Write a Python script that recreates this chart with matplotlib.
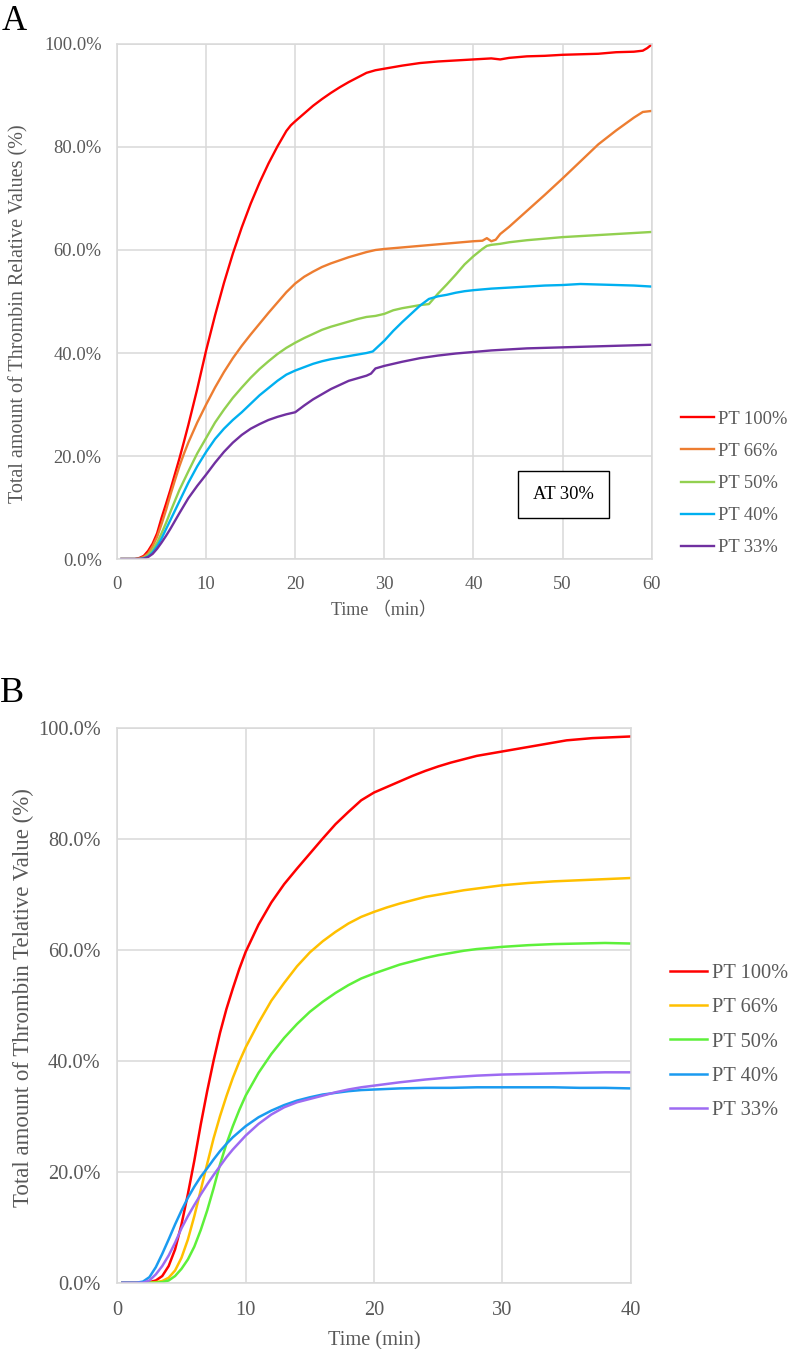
import matplotlib
matplotlib.use("Agg")
import matplotlib.pyplot as plt

# ─────────────────────────────
# DATA — panel A (AT 30%), time in min, value in %
# ─────────────────────────────
a_labels = ["PT 100%", "PT 66%", "PT 50%", "PT 40%", "PT 33%"]
a_colors = ["#FF0000", "#ED7D31", "#92D050", "#00B0F0", "#7030A0"]

a_pt100_t = [0.5, 1, 2, 2.5, 3, 3.5, 4, 4.5, 5, 5.5, 6, 6.5, 7, 7.5, 8, 9, 10, 11, 12, 13, 14, 15, 16, 17, 18, 19, 19.5,
             20, 21, 22, 23, 24, 25, 26, 27, 28, 29, 30, 32, 34, 36, 38, 40, 42, 43, 44, 46, 48, 50, 52, 54, 56, 58,
             59, 59.5, 60]
a_pt100_v = [0, 0, 0, 0.2, 0.6, 1.6, 3.0, 5.0, 8.0, 10.7, 13.5, 16.5, 19.5, 22.7, 26, 33, 40.5, 47.3, 53.6, 59.3, 64.4,
             69, 73.1, 76.8, 80.1, 83.1, 84.2, 85, 86.5, 88, 89.3, 90.5, 91.6, 92.6, 93.5, 94.4, 94.9, 95.2, 95.8,
             96.3, 96.6, 96.8, 97.0, 97.2, 97.0, 97.3, 97.6, 97.7, 97.9, 98.0, 98.1, 98.4, 98.5, 98.7, 99.2, 99.9]

a_pt66_t = [0.5, 2, 2.5, 3, 3.5, 4, 4.5, 5, 5.5, 6, 6.5, 7, 7.5, 8, 9, 10, 11, 12, 13, 14, 15, 16, 17, 18, 19, 20, 21,
            22, 23, 24, 25, 26, 27, 28, 29, 30, 32, 34, 36, 38, 40, 41, 41.5, 42, 42.5, 43, 44, 46, 48, 50, 52, 54,
            56, 58, 59, 60]
a_pt66_v = [0, 0, 0.1, 0.4, 1.1, 2.5, 4.3, 6.8, 9.5, 12.5, 15.3, 18, 20.4, 22.6, 26.5, 30, 33.3, 36.3, 39, 41.4, 43.6,
            45.7, 47.8, 49.8, 51.8, 53.5, 54.8, 55.8, 56.7, 57.4, 58, 58.6, 59.1, 59.6, 60, 60.2, 60.5, 60.8, 61.1,
            61.4, 61.7, 61.8, 62.3, 61.7, 62, 63.1, 64.5, 67.6, 70.7, 73.9, 77.2, 80.5, 83.2, 85.7, 86.8, 87.0]

a_pt50_t = [0.5, 2.5, 3, 3.5, 4, 4.5, 5, 5.5, 6, 6.5, 7, 8, 9, 10, 11, 12, 13, 14, 15, 16, 17, 18, 19, 20, 21, 22, 23,
            24, 25, 26, 27, 28, 29, 30, 31, 32, 33, 34, 35, 35.5, 36, 37, 38, 39, 40, 41, 41.5, 42, 43, 44, 46, 48,
            50, 52, 54, 56, 58, 60]
a_pt50_v = [0, 0, 0.2, 0.8, 1.8, 3.2, 5, 7, 9.2, 11.3, 13.4, 17, 20.5, 23.5, 26.5, 29, 31.3, 33.3, 35.2, 36.9, 38.4,
            39.8, 41, 42, 42.9, 43.7, 44.5, 45.1, 45.6, 46.1, 46.6, 47, 47.2, 47.6, 48.3, 48.7, 49, 49.3, 49.5, 50.5,
            51.5, 53.3, 55.2, 57.2, 58.8, 60.2, 60.8, 61, 61.2, 61.5, 61.9, 62.2, 62.5, 62.7, 62.9, 63.1, 63.3, 63.5]

a_pt40_t = [0.5, 2.5, 3, 3.5, 4, 4.5, 5, 5.5, 6, 6.5, 7, 8, 9, 10, 11, 12, 13, 14, 16, 18, 19, 20, 22, 23, 24, 25, 26,
            27, 28, 28.7, 30, 31, 32, 33, 34, 35, 36, 37, 38, 39, 40, 42, 44, 46, 48, 50, 52, 54, 56, 58, 60]
a_pt40_v = [0, 0, 0.1, 0.5, 1.3, 2.5, 4, 5.8, 7.6, 9.4, 11.2, 14.8, 18, 20.8, 23.3, 25.3, 27, 28.5, 31.8, 34.6, 35.8,
            36.6, 37.9, 38.4, 38.8, 39.1, 39.4, 39.7, 40, 40.3, 42.4, 44.3, 46, 47.6, 49.2, 50.5, 51, 51.3, 51.7, 52,
            52.2, 52.5, 52.7, 52.9, 53.1, 53.2, 53.4, 53.3, 53.2, 53.1, 52.9]

a_pt33_t = [0.5, 2.5, 3, 3.5, 4, 4.5, 5, 5.5, 6, 6.5, 7, 8, 9, 10, 11, 12, 13, 14, 15, 16, 17, 18, 19, 20, 21, 22, 23,
            24, 25, 26, 27, 28, 28.5, 29, 30, 32, 34, 36, 38, 40, 42, 44, 46, 48, 50, 52, 54, 56, 58, 60]
a_pt33_v = [0, 0, 0.1, 0.4, 1, 2, 3.2, 4.5, 5.9, 7.4, 8.9, 11.8, 14.2, 16.4, 18.7, 20.8, 22.6, 24.1, 25.3, 26.2, 27,
            27.6, 28.1, 28.5, 29.8, 31, 32, 33, 33.8, 34.6, 35.1, 35.6, 36, 37, 37.5, 38.3, 39, 39.5, 39.9, 40.2,
            40.5, 40.7, 40.9, 41, 41.1, 41.2, 41.3, 41.4, 41.5, 41.6]

# ─────────────────────────────
# DATA — panel B
# ─────────────────────────────
b_labels = ["PT 100%", "PT 66%", "PT 50%", "PT 40%", "PT 33%"]
b_colors = ["#FF0000", "#FFC000", "#5DF03A", "#1A9BF0", "#9D6BF2"]

b_pt100_t = [0.4, 1, 2, 2.5, 3, 3.5, 4, 4.5, 5, 5.5, 6, 6.5, 7, 7.5, 8, 8.5, 9, 9.5, 10, 11, 12, 13, 14, 15, 16, 17,
             18, 19, 20, 21, 22, 23, 24, 25, 26, 27, 28, 29, 30, 31, 32, 33, 34, 35, 36, 37, 38, 39, 40]
b_pt100_v = [0, 0, 0, 0.1, 0.4, 1.2, 3, 6, 10.5, 16, 22, 28.5, 34.5, 40, 45, 49.3, 53, 56.5, 59.6, 64.5, 68.5, 71.8,
             74.6, 77.3, 80, 82.6, 84.8, 86.9, 88.3, 89.3, 90.3, 91.3, 92.2, 93, 93.7, 94.3, 94.9, 95.3, 95.7, 96.1,
             96.5, 96.9, 97.3, 97.7, 97.9, 98.1, 98.2, 98.3, 98.4]

b_pt66_t = [0.4, 2.5, 3, 3.5, 4, 4.5, 5, 5.5, 6, 6.5, 7, 7.5, 8, 8.5, 9, 9.5, 10, 11, 12, 13, 14, 15, 16, 17, 18, 19,
            20, 21, 22, 23, 24, 25, 26, 27, 28, 29, 30, 32, 34, 36, 38, 40]
b_pt66_v = [0, 0, 0.1, 0.3, 0.9, 2.2, 4.5, 7.8, 12, 16.7, 21.4, 26, 30, 33.6, 36.9, 39.8, 42.4, 46.8, 50.8, 54, 57,
            59.5, 61.5, 63.2, 64.7, 65.9, 66.8, 67.6, 68.3, 68.9, 69.5, 69.9, 70.3, 70.7, 71, 71.3, 71.6, 72, 72.3,
            72.5, 72.7, 72.9]

b_pt50_t = [0.4, 3, 3.5, 4, 4.5, 5, 5.5, 6, 6.5, 7, 7.5, 8, 8.5, 9, 9.5, 10, 11, 12, 13, 14, 15, 16, 17, 18, 19, 20,
            21, 22, 23, 24, 25, 26, 27, 28, 29, 30, 32, 34, 36, 38, 40]
b_pt50_v = [0, 0, 0.1, 0.4, 1.2, 2.5, 4.2, 6.5, 9.5, 13, 17, 21.3, 25, 28.2, 31.1, 33.7, 37.8, 41.2, 44.1, 46.6, 48.8,
            50.6, 52.2, 53.6, 54.8, 55.7, 56.5, 57.3, 57.9, 58.5, 59, 59.4, 59.8, 60.1, 60.3, 60.5, 60.8, 61, 61.1,
            61.2, 61.1]

b_pt40_t = [0.4, 1.5, 2, 2.5, 3, 3.5, 4, 4.5, 5, 5.5, 6, 6.5, 7, 7.5, 8, 8.5, 9, 10, 11, 12, 13, 14, 15, 16, 17, 18,
            19, 20, 22, 24, 26, 28, 30, 32, 34, 36, 38, 40]
b_pt40_v = [0, 0, 0.2, 1, 2.8, 5.2, 7.8, 10.5, 13, 15.3, 17.3, 19.1, 20.6, 22.2, 23.7, 25, 26.2, 28.2, 29.8, 31, 32,
            32.8, 33.4, 33.9, 34.2, 34.5, 34.7, 34.8, 35, 35.1, 35.1, 35.2, 35.2, 35.2, 35.2, 35.1, 35.1, 35.0]

b_pt33_t = [0.4, 2, 2.5, 3, 3.5, 4, 4.5, 5, 5.5, 6, 6.5, 7, 7.5, 8, 8.5, 9, 10, 11, 12, 13, 14, 15, 16, 17, 18, 19,
            20, 22, 24, 26, 28, 30, 32, 34, 36, 38, 40]
b_pt33_v = [0, 0, 0.4, 1.5, 3, 4.9, 7.2, 9.8, 12, 14, 15.9, 17.7, 19.4, 21, 22.6, 24, 26.5, 28.6, 30.3, 31.6, 32.5,
            33.1, 33.7, 34.3, 34.8, 35.2, 35.5, 36.1, 36.6, 37, 37.3, 37.5, 37.6, 37.7, 37.8, 37.9, 37.9]

a_series = [(a_pt100_t, a_pt100_v), (a_pt66_t, a_pt66_v), (a_pt50_t, a_pt50_v),
            (a_pt40_t, a_pt40_v), (a_pt33_t, a_pt33_v)]
b_series = [(b_pt100_t, b_pt100_v), (b_pt66_t, b_pt66_v), (b_pt50_t, b_pt50_v),
            (b_pt40_t, b_pt40_v), (b_pt33_t, b_pt33_v)]

y_ticks = [0, 20, 40, 60, 80, 100]
a_x_ticks = [0, 10, 20, 30, 40, 50, 60]
b_x_ticks = [0, 10, 20, 30, 40]

# ─────────────────────────────
# STYLE
# ─────────────────────────────
SERIF = ["Liberation Serif", "Noto Sans CJK JP", "DejaVu Serif"]
plt.rcParams["font.family"] = SERIF
TXT = "#595959"
GRID = "#D9D9D9"

fig = plt.figure(figsize=(7.89, 13.49), dpi=100)


def style_axes(ax, xmax, xticks, fs):
    ax.set_xlim(0, xmax)
    ax.set_ylim(0, 100)
    ax.set_xticks(xticks)
    ax.set_xticklabels([str(t) for t in xticks])
    ax.set_yticks(y_ticks)
    ax.set_yticklabels([f"{v:.1f}%" for v in y_ticks])
    ax.grid(True, color=GRID, linewidth=1.1)
    ax.set_axisbelow(True)
    for sp in ax.spines.values():
        sp.set_color(GRID)
        sp.set_linewidth(1.1)
    ax.tick_params(length=0, labelsize=fs, labelcolor=TXT)


# ─────────────────────────────
# PANEL A
# ─────────────────────────────
axA = fig.add_axes([0.1483, 0.5856, 0.6777, 0.3818])
style_axes(axA, 60, a_x_ticks, 13.3)
axA.tick_params(axis="y", pad=11)
axA.tick_params(axis="x", pad=12.5)
for (t, v), c, lab in zip(a_series, a_colors, a_labels):
    axA.plot(t, v, color=c, linewidth=1.7, label=lab)
axA.set_xlabel("Time （min）", fontsize=13, color=TXT, labelpad=6.5)
axA.set_ylabel("Total amount of Thrombin Relative Values (%)", fontsize=14.5, color=TXT)
axA.yaxis.set_label_coords(-0.166, 0.476)
axA.text(0.835, 0.125, "AT 30%", transform=axA.transAxes, fontsize=13.3, color="black",
         ha="center", va="center",
         bbox=dict(boxstyle="square,pad=0.8", facecolor="white", edgecolor="black", linewidth=1.0))
axA.legend(loc="upper left", bbox_to_anchor=(0.863, 0.6955), bbox_transform=fig.transFigure,
           frameon=False, fontsize=13.3, handlelength=1.8, handletextpad=0.2,
           labelspacing=0.82, borderpad=0, borderaxespad=0, labelcolor=TXT)
fig.text(0.002, 0.9778, "A", fontsize=25, color="black", ha="left", va="baseline")

# ─────────────────────────────
# PANEL B
# ─────────────────────────────
axB = fig.add_axes([0.1487, 0.04915, 0.6507, 0.4115])
style_axes(axB, 40, b_x_ticks, 14.7)
axB.tick_params(axis="y", pad=12)
axB.tick_params(axis="x", pad=13.5)
for (t, v), c, lab in zip(b_series, b_colors, b_labels):
    axB.plot(t, v, color=c, linewidth=1.8, label=lab)
axB.set_xlabel("Time (min)", fontsize=14.7, color=TXT, labelpad=7.5)
axB.set_ylabel("Total amount of Thrombin Telative Value (%)", fontsize=16.5, color=TXT)
axB.yaxis.set_label_coords(-0.162, 0.513)
axB.legend(loc="upper left", bbox_to_anchor=(0.849, 0.2855), bbox_transform=fig.transFigure,
           frameon=False, fontsize=14.7, handlelength=1.8, handletextpad=0.25,
           labelspacing=0.73, borderpad=0, borderaxespad=0, labelcolor=TXT)
fig.text(0.0, 0.4796, "B", fontsize=26, color="black", ha="left", va="baseline")

fig.savefig("out.png", dpi=100)
